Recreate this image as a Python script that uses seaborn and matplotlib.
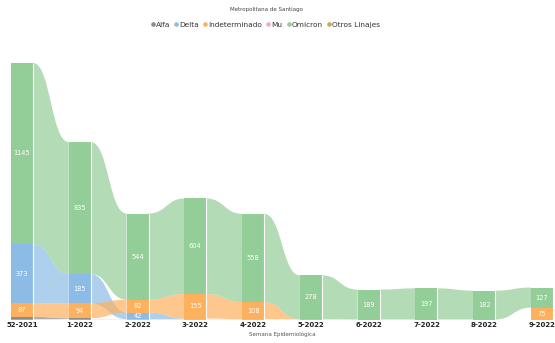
import numpy as np
import pandas as pd
import matplotlib
matplotlib.use("Agg")
import matplotlib.pyplot as plt
import seaborn as sns
from matplotlib.path import Path
from matplotlib.patches import PathPatch
from matplotlib.lines import Line2D

# Weekly sequenced samples by lineage
weeks = ["52-2021", "1-2022", "2-2022", "3-2022", "4-2022",
         "5-2022", "6-2022", "7-2022", "8-2022", "9-2022"]
variants = ["Alfa", "Delta", "Indeterminado", "Mu", "Omicron", "Otros Linajes"]
alfa = [15, 5, 0, 0, 0, 0, 0, 0, 0, 0]
delta = [373, 185, 42, 4, 0, 0, 0, 0, 0, 0]
indeterminado = [87, 94, 82, 155, 108, 1, 0, 0, 0, 75]
mu = [0, 2, 2, 2, 2, 0, 0, 0, 0, 0]
omicron = [1145, 835, 544, 604, 558, 278, 189, 197, 182, 127]
otros_linajes = [2, 1, 0, 0, 0, 0, 0, 0, 0, 0]
colors = ["#8c8c8c", "#8cbce6", "#fdb05e", "#f5a8cb", "#93cd97", "#c8a95a"]

series = [alfa, delta, indeterminado, mu, omicron, otros_linajes]
df = pd.DataFrame(
    [(w, i, v, s[i]) for v, s in zip(variants, series) for i, w in enumerate(weeks)],
    columns=["week", "pos", "variant", "value"],
)

# Within each week, stack segments from smallest (bottom) to largest (top)
df["order"] = df["variant"].map({v: k for k, v in enumerate(variants)})
df = df.sort_values(["pos", "value", "order"])
df["bottom"] = df.groupby("pos")["value"].cumsum() - df["value"]
df["top"] = df["bottom"] + df["value"]

sns.set_theme(style="white")
plt.rcParams["font.family"] = ["DejaVu Sans"]
palette = dict(zip(variants, sns.color_palette(colors)))

fig = plt.figure(figsize=(5.55, 3.43), dpi=100)
ax = fig.add_axes([11 / 555, 23.5 / 343, 542 / 555, 261 / 343])

bw = 0.38
lookup = df.set_index(["variant", "pos"])

# Ribbons between consecutive weeks
for v in variants:
    for i in range(len(weeks) - 1):
        a = lookup.loc[(v, i)]
        b = lookup.loc[(v, i + 1)]
        if a["value"] <= 0 or b["value"] <= 0:
            continue
        x0, x1 = i + bw / 2, i + 1 - bw / 2
        xm = (x0 + x1) / 2
        verts = [(x0, a["top"]), (xm, a["top"]), (xm, b["top"]), (x1, b["top"]),
                 (x1, b["bottom"]), (xm, b["bottom"]), (xm, a["bottom"]), (x0, a["bottom"]),
                 (x0, a["top"])]
        codes = [Path.MOVETO, Path.CURVE4, Path.CURVE4, Path.CURVE4,
                 Path.LINETO, Path.CURVE4, Path.CURVE4, Path.CURVE4, Path.CLOSEPOLY]
        ax.add_patch(PathPatch(Path(verts, codes), facecolor=palette[v],
                               edgecolor="none", alpha=0.7, zorder=1))

# Stacked bars
for _, r in df[df["value"] > 0].iterrows():
    ax.bar(r["pos"], r["value"], width=bw, bottom=r["bottom"],
           color=palette[r["variant"]], linewidth=0, zorder=2)
    if r["value"] >= 20:
        ax.text(r["pos"], r["bottom"] + r["value"] / 2, f"{int(r['value'])}",
                ha="center", va="center", color="white", fontsize=4.8, zorder=3)

totals = df.groupby("pos")["value"].sum()
ax.vlines(np.arange(len(weeks)) + bw / 2, 0, totals.values, color="white",
          linewidth=0.8, zorder=4)

ax.set_xlim(-bw / 2, len(weeks) - 1 + bw / 2)
ax.set_ylim(0, 1650)
ax.set_xticks(range(len(weeks)))
ax.set_xticklabels(weeks, fontsize=5, fontweight="bold", color="#222222")
ax.tick_params(axis="x", length=0, pad=2)
ax.set_yticks([])
sns.despine(ax=ax, left=True, bottom=True)

fig.text(266 / 555, 1 - 10 / 343, "Metropolitana de Santiago", ha="center",
         va="center", fontsize=4, color="#444444")
fig.text(282 / 555, 1 - 334 / 343, "Semana Epidemiológica", ha="center",
         va="center", fontsize=4, color="#555555")

handles = [Line2D([], [], marker="o", linestyle="none", markersize=3.3,
                  markerfacecolor=palette[v], markeredgecolor="none") for v in variants]
fig.legend(handles, variants, loc="center", bbox_to_anchor=(265 / 555, 1 - 24.5 / 343),
           ncol=6, frameon=False, fontsize=5.3, handletextpad=0.05,
           columnspacing=0.4, handlelength=0.8, labelcolor="#333333")

fig.savefig("out.png", dpi=100)
